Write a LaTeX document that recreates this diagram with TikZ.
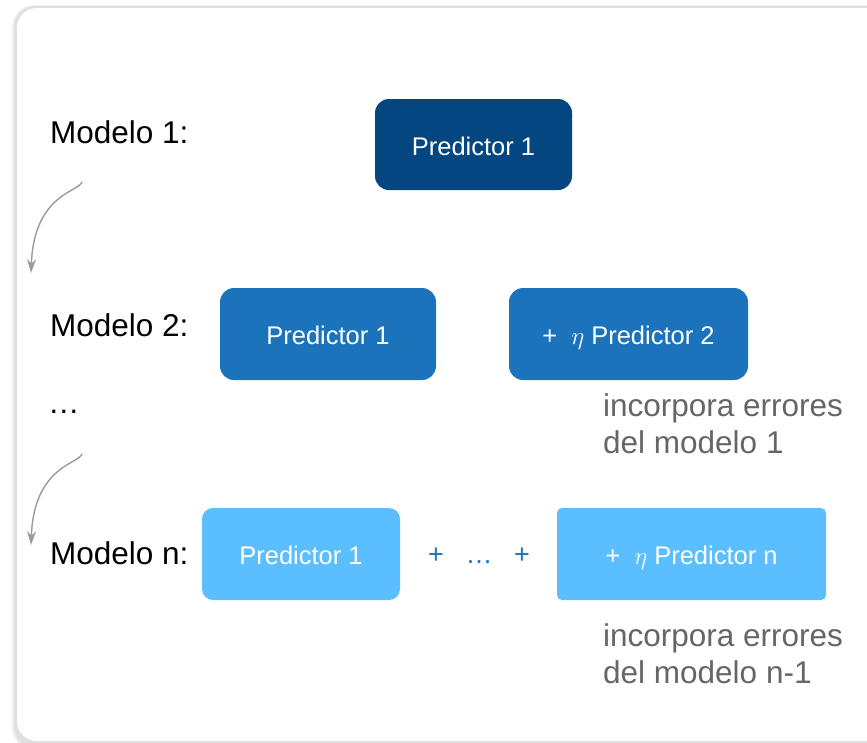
\documentclass[tikz,border=0pt]{standalone}
\usepackage{fontspec}
\setmainfont{Liberation Sans}
\usetikzlibrary{arrows.meta}
\definecolor{cdark}{RGB}{3,70,128}
\definecolor{cmid}{RGB}{27,116,187}
\definecolor{clight}{RGB}{91,190,255}
\definecolor{cgraytext}{RGB}{102,102,102}
\definecolor{carrow}{RGB}{155,155,155}
\tikzset{
  lbl/.style={anchor=base west, inner sep=0pt, text=black, font=\fontsize{31.5}{38}\selectfont},
  note/.style={anchor=base west, inner sep=0pt, align=left, text=cgraytext, font=\fontsize{31.5}{37}\selectfont},
  pbox/.style={inner sep=0pt, text=white, text height=21pt, text depth=0pt, font=\fontsize{25.5}{30}\selectfont},
  flow/.style={draw=carrow, line width=1.4pt, -{Stealth[length=14pt,width=9pt]}}
}
\begin{document}
\begin{tikzpicture}[x=1pt,y=-1pt]
\useasboundingbox (0,0) rectangle (867,742);
% card with soft shadow
\fill[black!6, rounded corners=22] (12,5) rectangle (890,750);
\fill[black!12, rounded corners=21] (14,6) rectangle (890,748);
\fill[white, rounded corners=20] (17,8) rectangle (890,741);
% model labels
\node[lbl] (m1) at (50,143) {Modelo 1:};
\node[lbl] (m2) at (50,336) {Modelo 2:};
\node[lbl] (dots) at (48,413) {…};
\node[lbl] (m3) at (50,564) {Modelo n:};
% predictor boxes
\node[pbox, fill=cdark, rounded corners=14, minimum width=197, minimum height=91] (p11) at (473.5,144.5) {Predictor 1};
\node[pbox, fill=cmid, rounded corners=14, minimum width=216, minimum height=92] (p21) at (328,334) {Predictor 1};
\node[pbox, fill=cmid, rounded corners=14, minimum width=239, minimum height=92] (p22) at (628.5,334) {+\hspace{0.55em}$\eta$ Predictor 2};
\node[pbox, fill=clight, rounded corners=11, minimum width=198, minimum height=92] (pn1) at (301,554) {Predictor 1};
\node[inner sep=0pt, text=cmid, text height=19pt, text depth=0pt, font=\fontsize{27}{30}\selectfont] (pdots) at (479,554) {+\hspace{0.8em}…\hspace{0.8em}+};
\node[pbox, fill=clight, rounded corners=5, minimum width=269, minimum height=92] (pnn) at (691.5,554) {+\hspace{0.55em}$\eta$ Predictor n};
% notes
\node[note] (e1) at (603,453) {incorpora errores\\del modelo 1};
\node[note] (e2) at (603,683) {incorpora errores\\del modelo n-1};
% curved arrows
\coordinate (a1s) at (82,182);
\coordinate (a1e) at (31,273);
\coordinate (a2s) at (82,454);
\coordinate (a2e) at (31,545);
\draw[flow] (a1s) .. controls (79,192) and (34,194) .. (a1e);
\draw[flow] (a2s) .. controls (79,464) and (34,466) .. (a2e);
\end{tikzpicture}
\end{document}
